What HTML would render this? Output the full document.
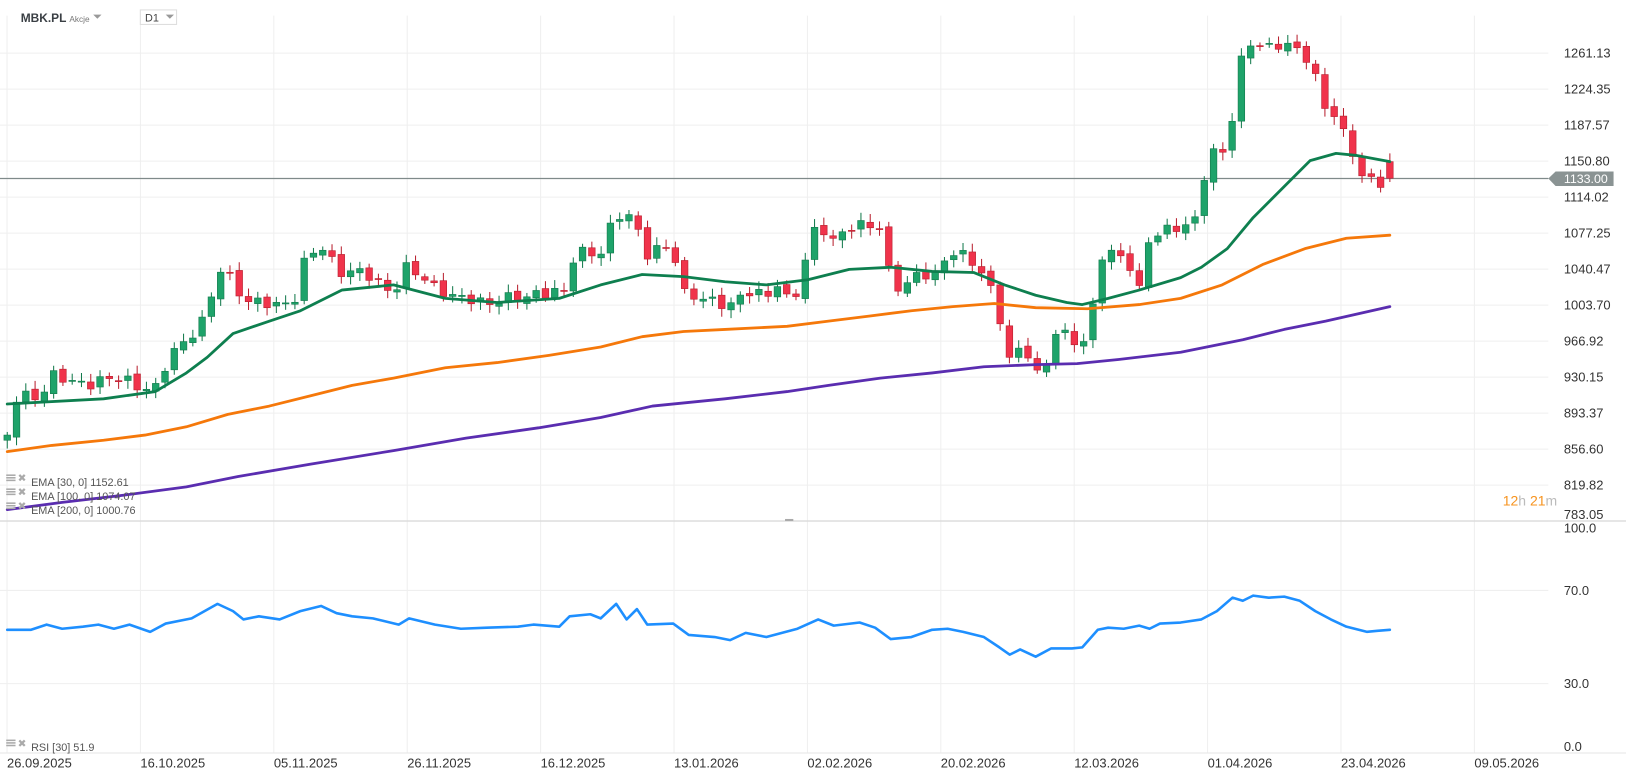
<!DOCTYPE html>
<html><head><meta charset="utf-8">
<style>
html,body{margin:0;padding:0;background:#fff;overflow:hidden}
svg{display:block;font-family:"Liberation Sans",sans-serif}
</style></head>
<body>
<svg id="c" width="1626" height="779" viewBox="0 0 1570 752" xmlns="http://www.w3.org/2000/svg">
<rect width="1570" height="752" fill="#fff"/>
<g id="grid" stroke="#efefef" stroke-width="1"></g>
<line x1="0" y1="503" x2="1570" y2="503" stroke="#d8d8d8" stroke-width="1.2"/>
<line x1="0" y1="727" x2="1570" y2="727" stroke="#e6e6e6" stroke-width="1"/>
<line x1="0" y1="172.3" x2="1495" y2="172.3" stroke="#7f8a8a" stroke-width="1.2"/>
<g id="candles"></g>
<g id="lines"></g>
<polygon points="1495,172.3 1502,165.5 1558,165.5 1558,179.5 1502,179.5" fill="#8a9393"/>
<text x="1510" y="176.8" font-size="12" fill="#fff">1133.00</text>
<g id="ylab" font-size="12.5" fill="#333"></g>
<g font-size="12.5" fill="#333">
<text x="1510" y="514">100.0</text>
<text x="1510" y="574.3">70.0</text>
<text x="1510" y="664.3">30.0</text>
<text x="1510" y="725">0.0</text>
</g>
<g id="xlab" font-size="12.5" fill="#333"></g>
<text x="1451" y="488" font-size="13.5" fill="#f7931e">12<tspan fill="#bbb">h</tspan> 21<tspan fill="#bbb">m</tspan></text>
<text x="20" y="21" font-size="11.5" font-weight="bold" fill="#3a3f44">MBK.PL</text>
<text x="67" y="21" font-size="8" fill="#777">Akcje</text>
<polygon points="90,14 98,14 94,18" fill="#999"/>
<rect x="135.5" y="9.5" width="35" height="14" fill="#fff" stroke="#ddd"/>
<text x="140" y="20.5" font-size="10.5" fill="#444">D1</text>
<polygon points="160,14 168,14 164,18" fill="#999"/>
<g font-size="10.5" fill="#555">
<g id="leg"></g>
<text x="30" y="469">EMA [30, 0] 1152.61</text>
<text x="30" y="482.5">EMA [100, 0] 1074.07</text>
<text x="30" y="496">EMA [200, 0] 1000.76</text>
<text x="30" y="725">RSI [30] 51.9</text>
</g>
<rect x="758" y="501" width="8" height="2" fill="#aaa"/>
</svg>
<script>
const NS="http://www.w3.org/2000/svg";
function el(p,t,a){const e=document.createElementNS(NS,t);for(const k in a)e.setAttribute(k,a[k]);p.appendChild(e);return e;}
const grid=document.getElementById('grid');
for(let k=0;k<12;k++){const x=6.8+128.8*k;el(grid,'line',{x1:x,y1:15,x2:x,y2:727});}
for(let k=0;k<14;k++){const y=51.2+34.76*k;el(grid,'line',{x1:0,y1:y,x2:1495,y2:y});}
el(grid,'line',{x1:0,y1:570,x2:1495,y2:570});el(grid,'line',{x1:0,y1:660,x2:1495,y2:660});
const labs=["1261.13","1224.35","1187.57","1150.80","1114.02","1077.25","1040.47","1003.70","966.92","930.15","893.37","856.60","819.82","783.05"];
const yl=document.getElementById('ylab');
labs.forEach((l,k)=>{let y=51.2+34.76*k+4.3;if(k==13)y=501;const t=el(yl,'text',{x:1510,y:y});t.textContent=l;});
const dates=["26.09.2025","16.10.2025","05.11.2025","26.11.2025","16.12.2025","13.01.2026","02.02.2026","20.02.2026","12.03.2026","01.04.2026","23.04.2026","09.05.2026"];
const xl=document.getElementById('xlab');
dates.forEach((d,k)=>{const t=el(xl,'text',{x:6.8+128.8*k,y:741});t.textContent=d;});
const lg=document.getElementById('leg');
[465,478.5,492,721].forEach(y=>{
 el(lg,'rect',{x:6,y:y-7,width:9,height:1.5,fill:'#aaa'});el(lg,'rect',{x:6,y:y-4.5,width:9,height:1.5,fill:'#aaa'});el(lg,'rect',{x:6,y:y-2,width:9,height:1.5,fill:'#aaa'});
 const t=el(lg,'text',{x:17,y:y,'font-size':10,fill:'#aaa'});t.textContent='✖';
});
const A=[[7,420],[7.1,390],[40,380],[50,360],[70,372],[100,365],[130,370],[150,375],[165,345],[185,320],[200,305],[210,262],[220,265],[240,290],[265,297],[285,285],[295,250],[310,240],[330,260],[350,265],[380,280],[392,260],[410,270],[430,280],[440,290],[470,290],[500,290],[520,280],[545,285],[550,255],[560,240],[580,245],[595,210],[610,205],[625,245],[650,240],[660,280],[690,295],[710,290],[720,280],[740,290],[750,270],[765,295],[780,245],[790,215],[805,230],[820,220],[835,220],[850,215],[862,280],[880,275],[890,260],[900,265],[920,245],[935,250],[950,260],[962,295],[975,350],[990,330],[1000,360],[1010,355],[1020,320],[1030,325],[1045,330],[1055,300],[1065,245],[1075,245],[1090,250],[1100,280],[1105,240],[1120,225],[1140,215],[1155,215],[1165,160],[1175,140],[1185,150],[1195,65],[1210,42],[1225,45],[1240,38],[1255,55],[1268,60],[1275,100],[1290,108],[1300,140],[1315,168],[1330,175],[1342,172]];
function interp(P,x){if(x<=P[0][0])return P[0][1];for(let i=1;i<P.length;i++){if(x<=P[i][0]){const a=P[i-1],b=P[i];return a[1]+(b[1]-a[1])*(x-a[0])/(b[0]-a[0]);}}return P[P.length-1][1];}
const cg=document.getElementById('candles');
const N=150,dx=(1342-7)/(N-1);
let prev=420;
for(let i=0;i<N;i++){
 const x=7+i*dx;
 let c=interp(A,x)+5*Math.sin(i*2.3)+3*Math.sin(i*5.1);
 let o=prev+2*Math.sin(i*1.7);
 if(i==0)o=425;
 if(i==N-1){c=172;o=156;}
 const top=Math.min(o,c),bot=Math.max(o,c);
 const up=c<o;
 const col=up?'#1ea36a':'#f0334b',st=up?'#137a4c':'#b8202f';
 const hi=top-3-5*Math.abs(Math.sin(i*3.7)),lo=bot+3+5*Math.abs(Math.cos(i*2.9));
 el(cg,'line',{x1:x,y1:hi,x2:x,y2:lo,stroke:st,'stroke-width':1});
 el(cg,'rect',{x:x-3.2,y:top,width:6.4,height:Math.max(1,bot-top),fill:col,stroke:st,'stroke-width':0.6});
 prev=c;
}
const lines=document.getElementById('lines');
function pl(pts,col,w){el(lines,'polyline',{points:pts.map(p=>p.join(',')).join(' '),fill:'none',stroke:col,'stroke-width':w,'stroke-linejoin':'round','stroke-linecap':'round'});}
pl([[7,390],[100,385],[150,378],[180,360],[200,345],[225,322],[260,310],[290,300],[330,280],[380,275],[430,288],[480,292],[540,288],[580,275],[620,265],[660,267],[700,272],[740,275],[780,270],[820,260],[860,258],[900,262],[940,263],[970,275],[1000,285],[1030,292],[1045,294],[1070,288],[1100,280],[1140,268],[1160,258],[1185,240],[1210,210],[1240,180],[1265,155],[1290,148],[1310,150],[1342,156]],'#0e7f4f',2.7);
pl([[7,436],[50,430],[100,425],[140,420],[180,412],[220,400],[260,392],[300,382],[340,372],[380,365],[430,355],[480,350],[530,343],[580,335],[620,325],[660,320],[700,318],[760,315],[800,310],[840,305],[880,300],[920,296],[960,293],[1000,297],[1050,298],[1100,294],[1140,288],[1180,275],[1220,255],[1260,240],[1300,230],[1342,227]],'#f5780a',2.7);
pl([[7,492],[60,485],[120,478],[180,470],[230,460],[300,448],[380,435],[450,423],[520,413],[580,403],[630,392],[700,385],[760,378],[800,372],[850,365],[900,360],[950,354],[1000,352],[1040,351],[1080,347],[1140,340],[1200,328],[1240,318],[1280,310],[1342,296]],'#5a2db0',2.7);
pl([[7,608],[30,608],[45,603],[60,607],[80,605],[95,603],[110,607],[125,603],[145,610],[160,602],[185,597],[210,583],[225,590],[235,598],[250,595],[270,598],[290,590],[310,585],[325,592],[340,595],[360,597],[385,603],[395,597],[420,603],[445,607],[470,606],[500,605],[515,603],[540,605],[550,595],[570,593],[580,597],[595,583],[605,598],[615,588],[625,603],[650,602],[665,613],[690,615],[705,618],[720,611],[740,615],[755,611],[770,607],[790,598],[805,604],[830,601],[845,606],[860,617],[880,615],[900,608],[915,607],[930,610],[950,615],[965,625],[975,632],[985,627],[1000,634],[1015,626],[1035,626],[1045,625],[1060,608],[1070,606],[1085,607],[1100,604],[1110,607],[1120,602],[1140,601],[1160,598],[1175,590],[1190,577],[1200,580],[1210,575],[1225,577],[1240,576],[1255,580],[1270,590],[1285,598],[1300,605],[1320,610],[1330,609],[1342,608]],'#1e8fff',2.5);
</script>
</body></html>
